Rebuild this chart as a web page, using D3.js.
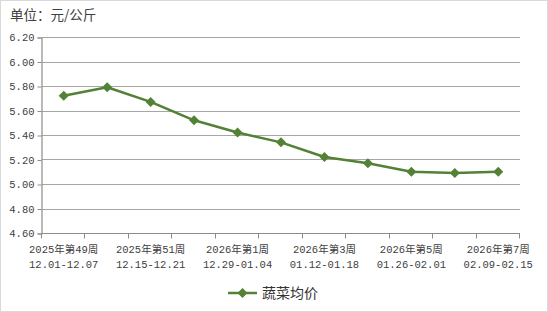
<!DOCTYPE html>
<html>
<head>
<meta charset="utf-8">
<script src="https://cdn.jsdelivr.net/npm/d3@7"></script>
<style>
  body { margin: 0; background: #fff; }
  svg { display: block; }
</style>
</head>
<body>
<div id="chart"></div>
<script>
// data
var weeks = ["2025年第49周", "2025年第50周", "2025年第51周", "2025年第52周", "2026年第1周", "2026年第2周",
             "2026年第3周", "2026年第4周", "2026年第5周", "2026年第6周", "2026年第7周"];
var dates = ["12.01-12.07", "12.08-12.14", "12.15-12.21", "12.22-12.28", "12.29-01.04", "01.05-01.11",
             "01.12-01.18", "01.19-01.25", "01.26-02.01", "02.02-02.08", "02.09-02.15"];
var prices = [5.72, 5.79, 5.67, 5.52, 5.42, 5.34, 5.22, 5.17, 5.10, 5.09, 5.10];
var yTicks = [4.6, 4.8, 5.0, 5.2, 5.4, 5.6, 5.8, 6.0, 6.2];
var seriesName = "蔬菜均价";

var W = 548, H = 312;
var plotL = 42, plotR = 520, plotT = 37, plotB = 233;
var green = "#538135";
var numFont = "'Liberation Mono', 'Noto Sans CJK SC', monospace";

var svg = d3.select("#chart").append("svg")
    .attr("width", W)
    .attr("height", H);

svg.append("rect")
    .attr("x", 0.5).attr("y", 0.5)
    .attr("width", W - 1).attr("height", H - 1)
    .attr("fill", "#fff")
    .attr("stroke", "#d9d9d9");

var x = d3.scaleBand().domain(d3.range(weeks.length)).range([plotL, plotR]);
var y = d3.scaleLinear().domain([4.6, 6.2]).range([plotB, plotT]);

// gridlines
svg.append("g").selectAll("line")
    .data(yTicks.slice(1))
    .enter().append("line")
    .attr("x1", plotL).attr("x2", plotR)
    .attr("y1", function(d) { return Math.round(y(d)) + 0.5; })
    .attr("y2", function(d) { return Math.round(y(d)) + 0.5; })
    .attr("stroke", "#a6a6a6")
    .attr("stroke-width", 1.2);

// y axis
var yAxis = svg.append("g")
    .attr("transform", "translate(" + (plotL - 0.5) + ",0.5)")
    .call(d3.axisLeft(y).tickValues(yTicks).tickSize(4).tickFormat(d3.format(".2f")));
yAxis.select(".domain").attr("stroke", "#8c8c8c").attr("stroke-width", 1.2);
yAxis.selectAll(".tick line").attr("stroke", "#8c8c8c");
yAxis.selectAll(".tick text")
    .attr("x", -7)
    .attr("fill", "#404040")
    .style("font-family", numFont)
    .style("font-size", "10.5px");

// x axis with ticks between categories
var xb = svg.append("g").attr("transform", "translate(0," + (Math.round(plotB) + 0.5) + ")");
xb.append("line")
    .attr("x1", plotL - 0.5).attr("x2", plotR)
    .attr("stroke", "#8c8c8c").attr("stroke-width", 1.2);
xb.selectAll(".tk")
    .data(d3.range(weeks.length + 1))
    .enter().append("line")
    .attr("class", "tk")
    .attr("x1", function(i) { return Math.round(plotL + i * x.step()) - 0.5; })
    .attr("x2", function(i) { return Math.round(plotL + i * x.step()) - 0.5; })
    .attr("y1", 0).attr("y2", 5)
    .attr("stroke", "#8c8c8c");

// category labels on every other week
var lab = xb.selectAll(".lab")
    .data(d3.range(0, weeks.length, 2))
    .enter().append("text")
    .attr("class", "lab")
    .attr("text-anchor", "middle")
    .attr("fill", "#404040")
    .style("font-family", numFont)
    .style("font-size", "10.5px");
lab.append("tspan")
    .attr("x", function(i) { return x(i) + x.bandwidth() / 2; })
    .attr("y", 19)
    .text(function(i) { return weeks[i]; });
lab.append("tspan")
    .attr("x", function(i) { return x(i) + x.bandwidth() / 2; })
    .attr("y", 34)
    .text(function(i) { return dates[i]; });

// unit label
svg.append("text")
    .attr("x", 10).attr("y", 20)
    .attr("fill", "#404040")
    .style("font-family", "'Noto Sans CJK SC', sans-serif")
    .style("font-size", "13.5px")
    .text("单位：元/公斤");

// line
var line = d3.line()
    .x(function(d, i) { return x(i) + x.bandwidth() / 2; })
    .y(function(d) { return y(d); });

svg.append("path")
    .datum(prices)
    .attr("d", line)
    .attr("fill", "none")
    .attr("stroke", green)
    .attr("stroke-width", 2.5)
    .attr("stroke-linejoin", "round");

var diamond = d3.symbol().type(d3.symbolDiamond2).size(64);
svg.append("g").selectAll("path")
    .data(prices)
    .enter().append("path")
    .attr("d", diamond)
    .attr("transform", function(d, i) {
        return "translate(" + (x(i) + x.bandwidth() / 2) + "," + y(d) + ")";
    })
    .attr("fill", green);

// legend
var lg = svg.append("g").attr("transform", "translate(228,293)");
lg.append("line")
    .attr("x1", 0).attr("x2", 29)
    .attr("stroke", green).attr("stroke-width", 2.5);
lg.append("path")
    .attr("d", diamond)
    .attr("transform", "translate(14.5,0)")
    .attr("fill", green);
lg.append("text")
    .attr("x", 34).attr("y", 5)
    .attr("fill", "#333")
    .style("font-family", "'Noto Sans CJK SC', sans-serif")
    .style("font-size", "14px")
    .text(seriesName);
</script>
</body>
</html>
